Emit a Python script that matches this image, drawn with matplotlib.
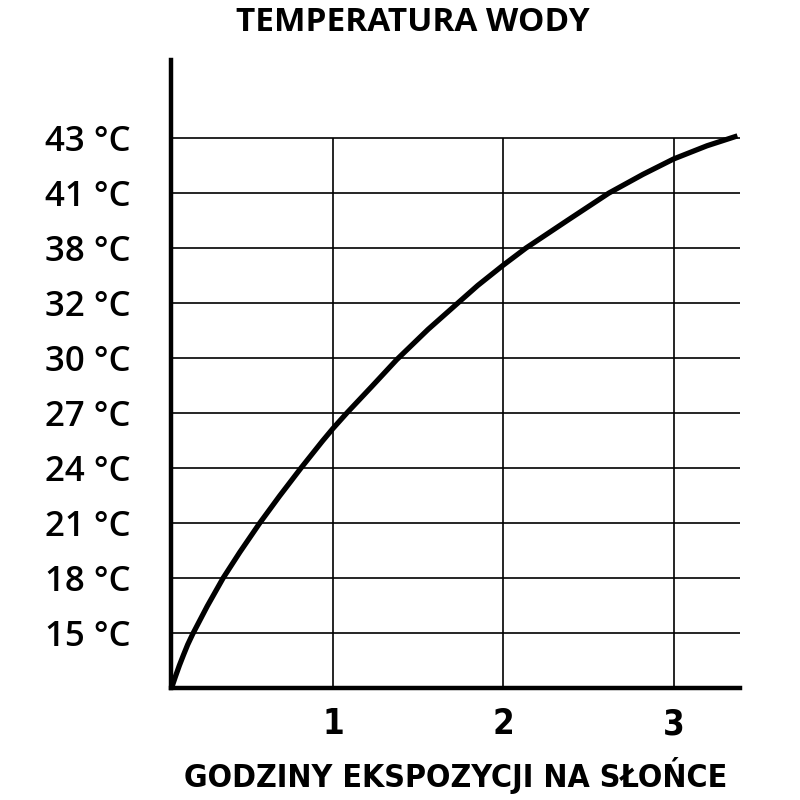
import matplotlib
matplotlib.use("Agg")
import matplotlib.pyplot as plt

# temperature labels sit on evenly spaced rows (not a linear scale)
temp_labels = ["15 °C", "18 °C", "21 °C", "24 °C", "27 °C",
               "30 °C", "32 °C", "38 °C", "41 °C", "43 °C"]
hour_ticks = [1, 2, 3]

# curve: hours vs row index
hours = [0.052, 0.075, 0.098, 0.122, 0.147, 0.176, 0.262, 0.355, 0.453, 0.57,
         0.686, 0.812, 0.938, 1.0, 1.081, 1.227, 1.374, 1.558, 1.733, 1.85,
         2.0, 2.133, 2.38, 2.62, 2.82, 3.0, 3.196, 3.375]
rows = [0, 0.21, 0.41, 0.6, 0.79, 0.98, 1.49, 2, 2.47, 3,
        3.49, 4, 4.49, 4.72, 5, 5.48, 5.97, 6.52, 7, 7.32,
        7.69, 8, 8.51, 9, 9.34, 9.62, 9.86, 10.04]

fig = plt.figure(figsize=(8, 8), dpi=100)
ax = fig.add_axes([0.214, 0.14, 0.711, 0.785])

n = len(temp_labels)
ax.hlines(range(1, n + 1), 0.0, 3.5, color='black', lw=1.2, zorder=1)
ax.vlines(hour_ticks, 0, n, color='black', lw=1.2, zorder=1)
ax.plot(hours, rows, color='black', lw=3.8, solid_capstyle='butt',
        solid_joinstyle='round', zorder=3)

ax.set_xlim(0.05, 3.39)
ax.set_ylim(0, 11.42)

for s in ['top', 'right']:
    ax.spines[s].set_visible(False)
for s in ['left', 'bottom']:
    ax.spines[s].set_linewidth(3.2)
    ax.spines[s].set_zorder(4)

ax.set_yticks(range(1, n + 1))
ax.set_yticklabels(temp_labels, fontsize=25, family='Open Sans', fontweight='semibold')
ax.set_xticks(hour_ticks)
ax.set_xticklabels([str(h) for h in hour_ticks], fontsize=25,
                   family='DejaVu Sans', fontstretch='condensed', fontweight='bold')
ax.tick_params(axis='both', length=0)
ax.tick_params(axis='y', pad=29)
ax.tick_params(axis='x', pad=14)

fig.text(0.516, 0.972, "TEMPERATURA WODY", ha='center', va='center',
         fontsize=24, family='Open Sans', fontweight='bold')
fig.text(0.57, 0.031, "GODZINY EKSPOZYCJI NA SŁOŃCE", ha='center', va='center',
         fontsize=23, family='DejaVu Sans', fontstretch='condensed', fontweight='bold')

fig.savefig("out.png", dpi=100, facecolor='white')
